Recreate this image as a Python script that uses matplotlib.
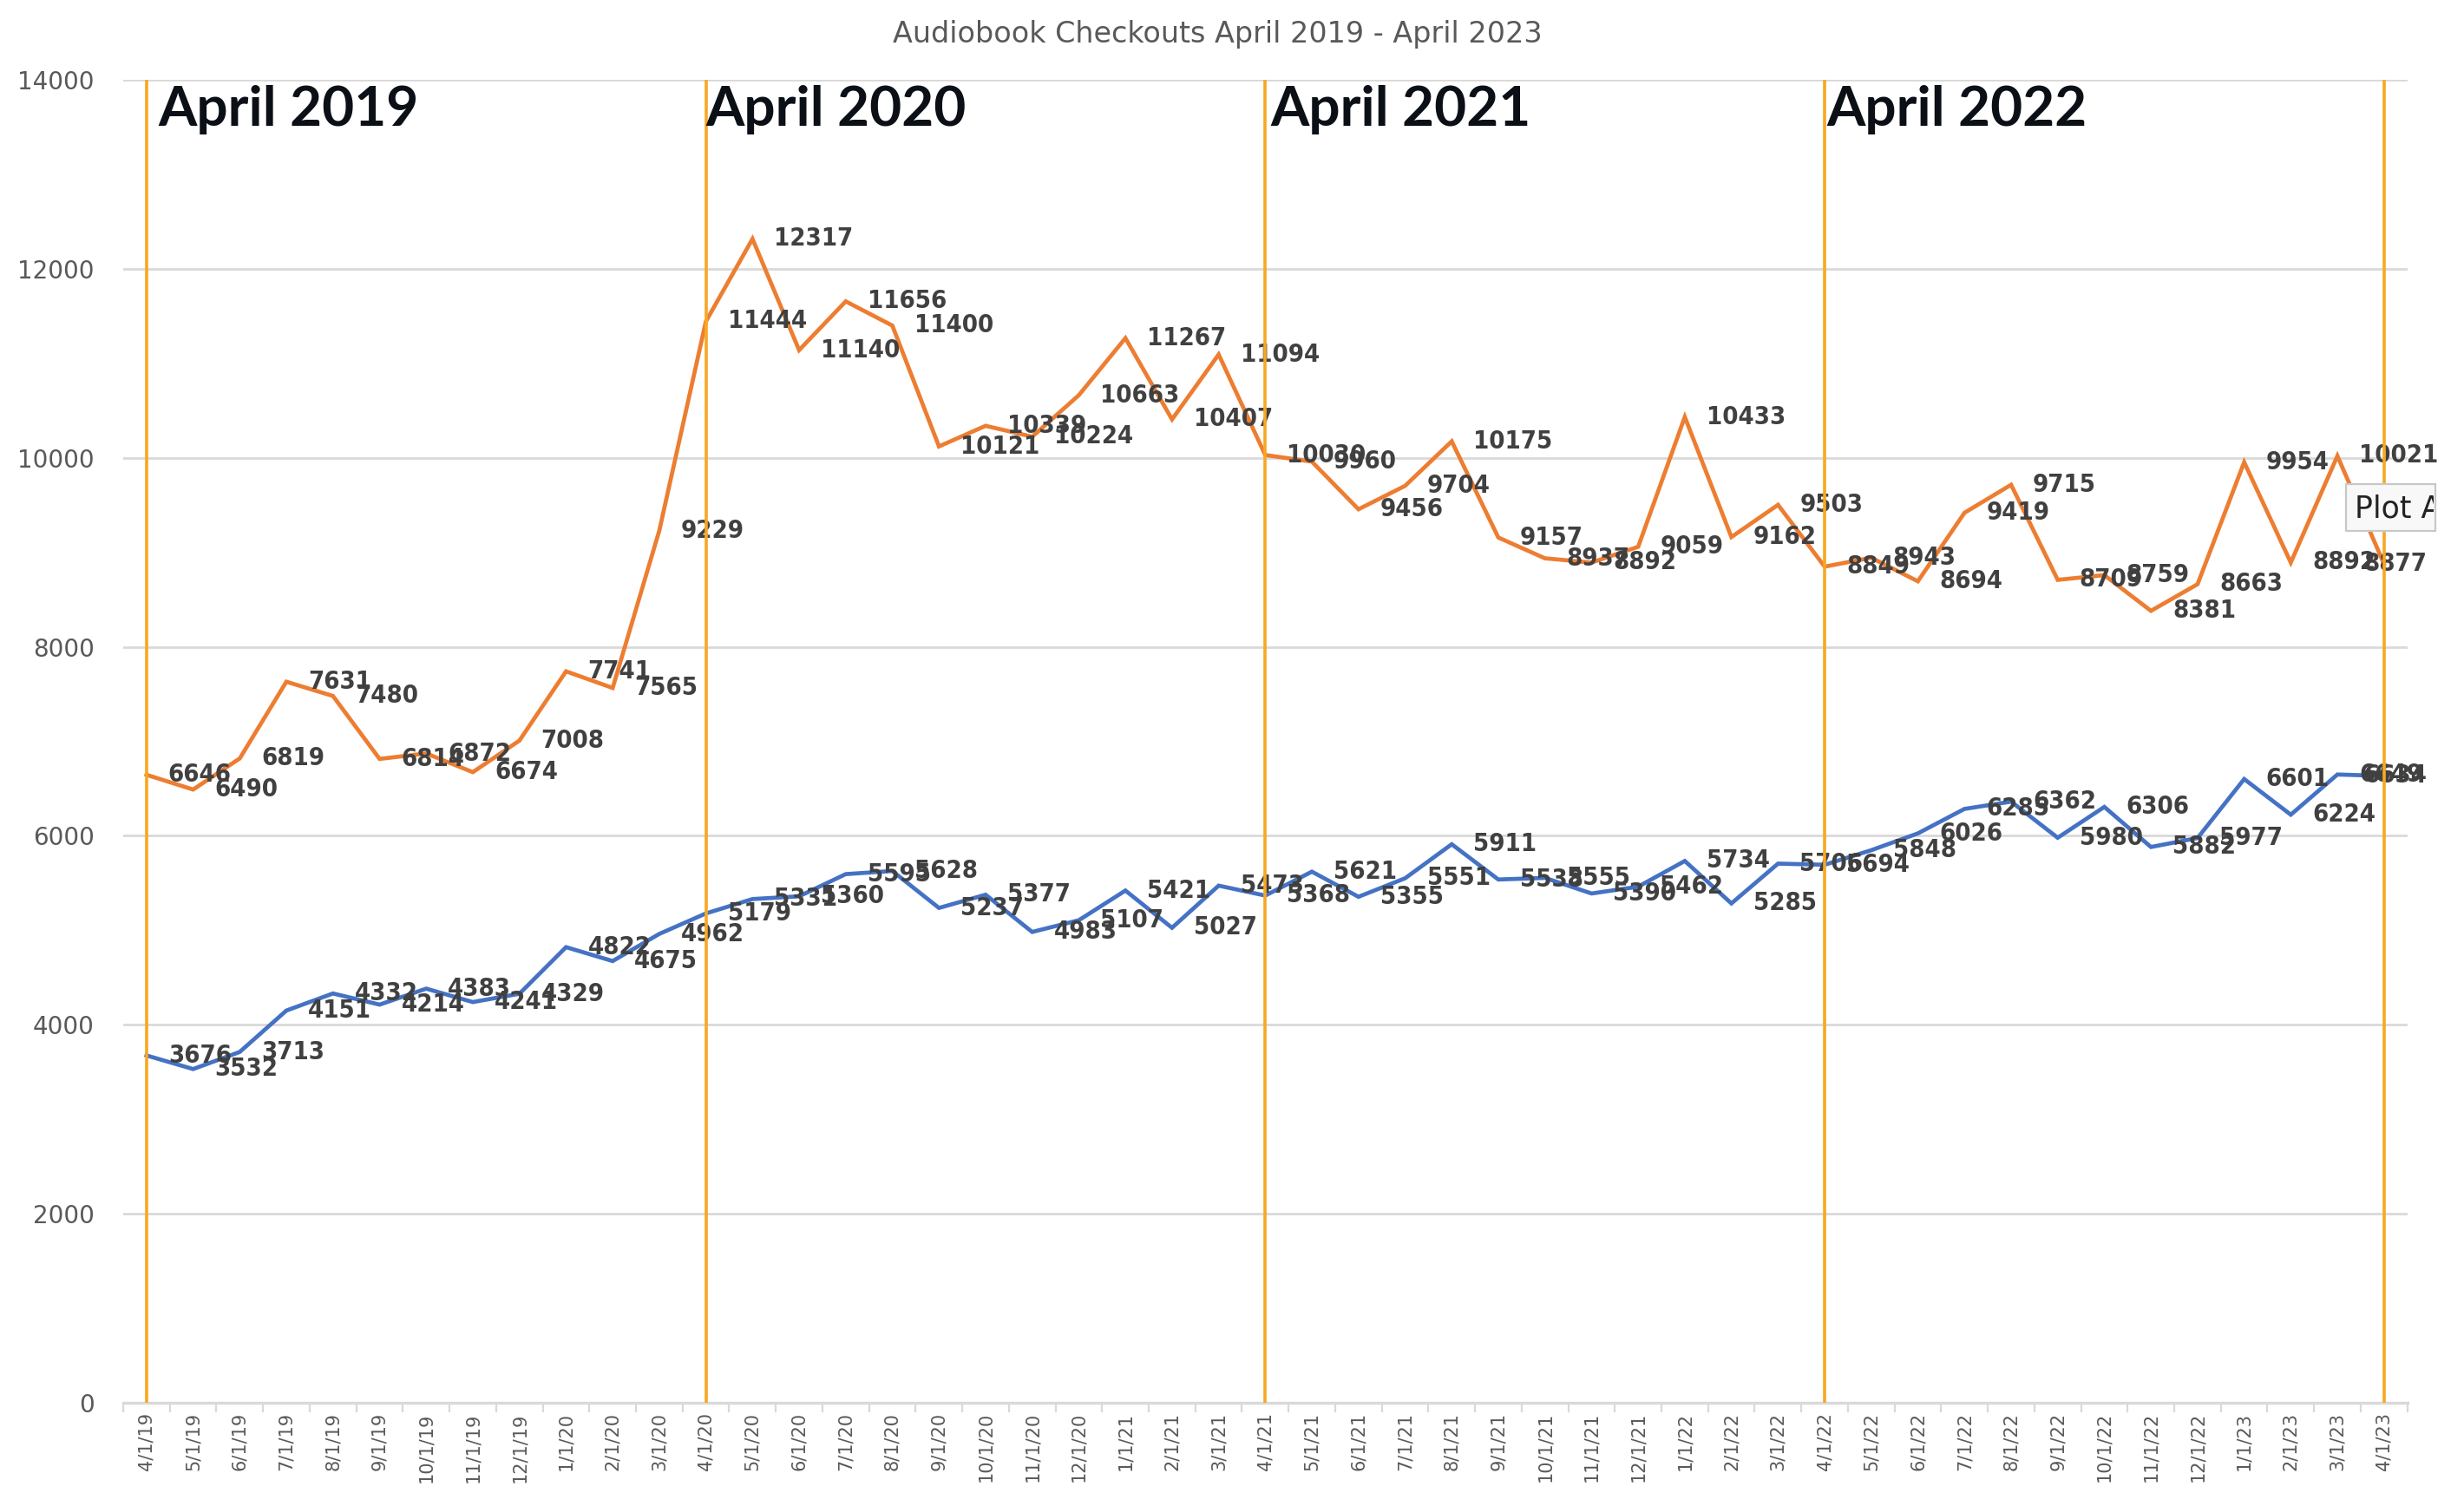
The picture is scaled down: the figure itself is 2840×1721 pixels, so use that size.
import matplotlib
matplotlib.use("Agg")
import matplotlib.pyplot as plt
from matplotlib.ticker import FixedLocator
from matplotlib.patches import Rectangle
from matplotlib.transforms import Bbox

title = "Audiobook Checkouts April 2019 - April 2023"

months = ["4/1/19", "5/1/19", "6/1/19", "7/1/19", "8/1/19", "9/1/19", "10/1/19",
          "11/1/19", "12/1/19", "1/1/20", "2/1/20", "3/1/20", "4/1/20", "5/1/20",
          "6/1/20", "7/1/20", "8/1/20", "9/1/20", "10/1/20", "11/1/20", "12/1/20",
          "1/1/21", "2/1/21", "3/1/21", "4/1/21", "5/1/21", "6/1/21", "7/1/21",
          "8/1/21", "9/1/21", "10/1/21", "11/1/21", "12/1/21", "1/1/22", "2/1/22",
          "3/1/22", "4/1/22", "5/1/22", "6/1/22", "7/1/22", "8/1/22", "9/1/22",
          "10/1/22", "11/1/22", "12/1/22", "1/1/23", "2/1/23", "3/1/23", "4/1/23"]

orange_series = [6646, 6490, 6819, 7631, 7480, 6814, 6872, 6674, 7008, 7741, 7565, 9229,
                 11444, 12317, 11140, 11656, 11400, 10121, 10339, 10224, 10663, 11267,
                 10407, 11094, 10030, 9960, 9456, 9704, 10175, 9157, 8937, 8892, 9059,
                 10433, 9162, 9503, 8849, 8943, 8694, 9419, 9715, 8709, 8759, 8381, 8663,
                 9954, 8892, 10021, 8877]

blue_series = [3676, 3532, 3713, 4151, 4332, 4214, 4383, 4241, 4329, 4822, 4675, 4962,
               5179, 5331, 5360, 5595, 5628, 5237, 5377, 4983, 5107, 5421, 5027, 5473,
               5368, 5621, 5355, 5551, 5911, 5538, 5555, 5390, 5462, 5734, 5285, 5706,
               5694, 5848, 6026, 6285, 6362, 5980, 6306, 5882, 5977, 6601, 6224, 6649,
               6634]

april_labels = ["April 2019", "April 2020", "April 2021", "April 2022"]
april_months = ["4/1/19", "4/1/20", "4/1/21", "4/1/22", "4/1/23"]
y_ticks = [0, 2000, 4000, 6000, 8000, 10000, 12000, 14000]

fig = plt.figure(figsize=(14.2, 8.605), dpi=200)
ax = fig.add_axes([0.050, 0.0604, 0.927, 0.8861])

x = list(range(len(months)))
ax.plot(x, orange_series, color="#ED7D31", lw=1.7, zorder=3, solid_joinstyle="miter")
ax.plot(x, blue_series, color="#4472C4", lw=1.7, zorder=3, solid_joinstyle="miter")

label_kw = dict(textcoords="offset points", va="center", fontsize=10.5,
                fontweight="bold", color="#404040", fontstretch="condensed", zorder=4)
for series in (orange_series, blue_series):
    n = len(series)
    for i, v in enumerate(series):
        if i == n - 1:
            ax.annotate(str(v), (i, v), xytext=(18, 0), ha="right", **label_kw)
        else:
            ax.annotate(str(v), (i, v), xytext=(9, 0), ha="left", **label_kw)

# vertical year markers
for m in april_months:
    ax.axvline(months.index(m), color="#F7A823", lw=1.3, zorder=5)

text_dx = [5, 0, 2, 1]
for lab, m, dx in zip(april_labels, april_months, text_dx):
    ax.annotate(lab, (months.index(m), y_ticks[-1]), xytext=(dx, -19),
                textcoords="offset points", ha="left", va="baseline",
                fontsize=23, fontweight="bold", family="Lato", color="#0B1017",
                zorder=6)

ax.set_xlim(-0.5, len(months) - 0.5)
ax.set_ylim(0, 14000)
ax.set_yticks(y_ticks)
ax.set_yticklabels([str(t) for t in y_ticks])
ax.set_xticks(x)
ax.set_xticklabels(months, rotation=90, fontsize=7.5, color="#595959")
ax.xaxis.set_minor_locator(FixedLocator([i - 0.5 for i in range(len(months) + 1)]))
ax.tick_params(axis="x", which="major", length=0, pad=4)
ax.tick_params(axis="x", which="minor", length=4, color="#D9D9D9", width=0.8)
ax.tick_params(axis="y", length=0, pad=12, labelsize=10, labelcolor="#595959")

ax.yaxis.grid(True, color="#D9D9D9", lw=1.0)
ax.set_axisbelow(True)
for s in ("top", "right", "left"):
    ax.spines[s].set_visible(False)
ax.spines["bottom"].set_color("#D9D9D9")
ax.spines["bottom"].set_linewidth(1.2)

fig.text(0.494, 0.977, title, ha="center", va="center", fontsize=12, color="#595959")

# screenshot tooltip remnant (cut off at the right edge of the capture)
fig.patches.append(Rectangle((0.9521, 0.6444), 0.0363, 0.0314, transform=fig.transFigure,
                             facecolor="#F8F8F8", edgecolor="#C8C8C8", lw=0.8, zorder=10))
tip = fig.text(0.9555, 0.6595, "Plot Area", ha="left", va="center", fontsize=12.5,
               color="#222222", zorder=11)
tip.set_clip_box(Bbox.from_extents(0, 0, 2805, 1721))
tip.set_clip_on(True)

fig.savefig("out.png", dpi=200, facecolor="white")
